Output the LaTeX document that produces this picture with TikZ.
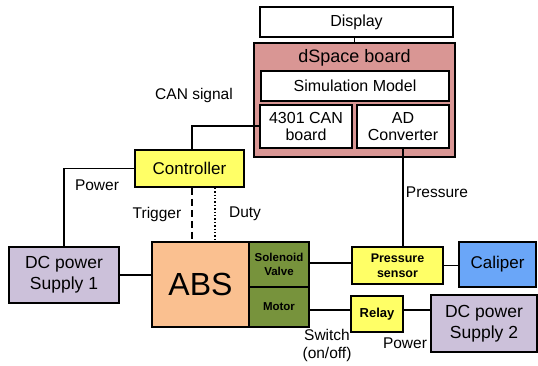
\documentclass[tikz,border=0pt]{standalone}
\usepackage{fontspec}
\setmainfont{Liberation Sans}
\definecolor{dspace}{RGB}{217,150,148}
\definecolor{ctrl}{RGB}{255,255,102}
\definecolor{abs}{RGB}{250,192,144}
\definecolor{valve}{RGB}{119,147,60}
\definecolor{supply}{RGB}{204,193,218}
\definecolor{cal}{RGB}{106,166,248}
\begin{document}
\begin{tikzpicture}[x=1pt,y=-1pt,line width=1.6pt,
  box/.style={draw=black,rectangle,inner sep=0pt,align=center,font=\fontsize{16}{17}\selectfont},
  lab/.style={inner sep=0pt,align=center,font=\fontsize{15.5}{18}\selectfont},
  sm/.style={font=\bfseries\fontsize{11.5}{14}\selectfont}]
\useasboundingbox (0,0) rectangle (538,365);
\node[box,fill=white,minimum width=193pt,minimum height=30pt] (disp) at (356.5,22) {Display};
\node[box,fill=dspace,minimum width=201pt,minimum height=114pt] (ds) at (354.5,100) {};
\node[inner sep=0pt,font=\fontsize{18}{20}\selectfont] (dslab) at (354.5,58) {dSpace board};
\node[box,fill=white,minimum width=188pt,minimum height=30pt] (sim) at (355,86) {Simulation Model};
\node[box,fill=white,minimum width=92pt,minimum height=43pt] (can) at (306,126.5) {4301 CAN\\board};
\node[box,fill=white,minimum width=92pt,minimum height=43pt] (ad) at (403,126.5) {AD\\Converter};
\node[box,fill=ctrl,minimum width=109pt,minimum height=37pt,font=\fontsize{17}{18}\selectfont] (ctrl) at (189.5,168.5) {Controller};
\node[box,fill=supply,minimum width=110pt,minimum height=56pt,font=\fontsize{17.5}{21}\selectfont] (dc1) at (64,275) {DC power\\Supply 1};
\node[box,fill=abs,minimum width=97pt,minimum height=85pt,font=\fontsize{32}{34}\selectfont] (abs) at (200.5,284.5) {ABS};
\node[box,fill=valve,minimum width=60pt,minimum height=45pt,sm] (sol) at (279,264.5) {Solenoid\\Valve};
\node[box,fill=valve,minimum width=60pt,minimum height=40pt,sm] (mot) at (279,307) {Motor};
\node[box,fill=ctrl,minimum width=91pt,minimum height=37pt,font=\bfseries\fontsize{12.5}{15}\selectfont] (ps) at (397.5,265.5) {Pressure\\sensor};
\node[box,fill=cal,minimum width=77pt,minimum height=45pt,font=\fontsize{17}{18}\selectfont] (cal) at (497.5,264.5) {Caliper};
\node[box,fill=ctrl,minimum width=52pt,minimum height=36pt,font=\bfseries\fontsize{13}{15}\selectfont] (relay) at (377,314) {Relay};
\node[box,fill=supply,minimum width=106pt,minimum height=57pt,font=\fontsize{17.5}{21}\selectfont] (dc2) at (484,323.5) {DC power\\Supply 2};
% connectors
\draw (disp.south -| ds.north) -- (ds.north);
\coordinate (canc) at (192,126);
\draw (can.west |- canc) -- (canc) -- (canc |- ctrl.north);
\coordinate (pwc) at (64,168.5);
\draw (ctrl.west) -- (pwc) -- (dc1.north);
\draw (dc1.east) -- (dc1.east -| abs.west);
\coordinate (trg) at (192,200);
\coordinate (dty) at (215,200);
\draw[dashed,dash pattern=on 7pt off 4pt] (trg |- ctrl.south) -- (trg |- abs.north);
\draw[dotted,line width=1.4pt] (dty |- ctrl.south) -- (dty |- abs.north);
\coordinate (prs) at (403,200);
\draw (prs |- ad.south) -- (prs |- ps.north);
\coordinate (svl) at (330,263);
\draw (sol.east |- svl) -- (ps.west |- svl);
\draw (ps.east) -- (ps.east -| cal.west);
\coordinate (mrl) at (330,310);
\draw (mot.east |- mrl) -- (relay.west |- mrl);
\draw (relay.east |- mrl) -- (dc2.west |- mrl);
% labels
\node[lab] (l1) at (194,95) {CAN signal};
\node[lab] (l2) at (97,185) {Power};
\node[lab] (l3) at (157,214) {Trigger};
\node[lab] (l4) at (245,214) {Duty};
\node[lab] (l5) at (437,192) {Pressure};
\node[lab] (l6) at (327,345) {Switch\\(on/off)};
\node[lab] (l7) at (405,343) {Power};
\end{tikzpicture}
\end{document}
